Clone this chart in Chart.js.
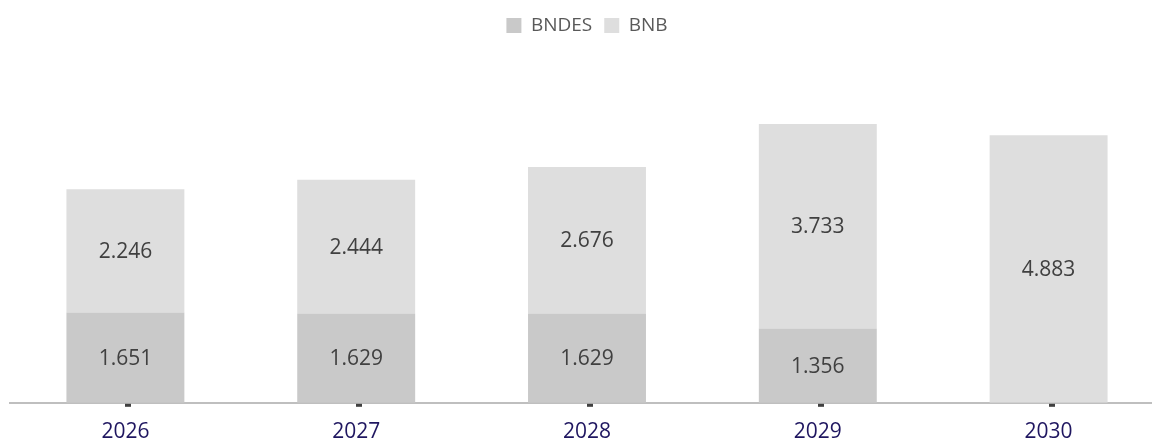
<!DOCTYPE html>
<html>
<head>
<meta charset="utf-8">
<script src="https://cdn.jsdelivr.net/npm/chart.js@4.4.1/dist/chart.umd.min.js"></script>
<style>
  html, body { margin: 0; padding: 0; background: #ffffff; overflow: hidden; }
  #wrap { width: 1166px; height: 462px; position: relative; }
</style>
</head>
<body>
<div id="wrap"><canvas id="c"></canvas></div>
<script>
const categories = ['2026', '2027', '2028', '2029', '2030'];
const bndesValues = [1651, 1629, 1629, 1356, null];
const bnbValues = [2246, 2444, 2676, 3733, 4883];
const seriesNames = ['BNDES', 'BNB'];

function fmt(v) {
  return String(Math.round(v)).replace(/\B(?=(\d{3})+(?!\d))/g, '.');
}

const FONT = "'Open Sans', 'DejaVu Sans', sans-serif";

const labelsPlugin = {
  id: 'segLabels',
  afterDatasetsDraw(chart) {
    const ctx = chart.ctx;
    ctx.save();
    ctx.font = '21px ' + FONT;
    ctx.fillStyle = '#404040';
    ctx.textAlign = 'center';
    ctx.textBaseline = 'middle';
    chart.data.datasets.forEach((ds, di) => {
      const meta = chart.getDatasetMeta(di);
      meta.data.forEach((bar, i) => {
        const v = ds.data[i];
        if (v === null || v === undefined || v === 0) return;
        const top = Math.min(bar.y, bar.base);
        const bot = Math.max(bar.y, bar.base);
        ctx.fillText(fmt(v), bar.x, (top + bot) / 2 + 1);
      });
    });
    const xs = chart.scales.x;
    const axisY = chart.chartArea.bottom;
    ctx.fillStyle = '#404040';
    categories.forEach((c, i) => {
      const x = xs.getPixelForValue(i);
      ctx.fillRect(Math.round(x), axisY + 1, 6, 3);
    });
    ctx.restore();
  }
};

new Chart(document.getElementById('c'), {
  type: 'bar',
  data: {
    labels: categories,
    datasets: [
      { label: seriesNames[0], data: bndesValues, backgroundColor: '#c9c9c9', borderWidth: 0 },
      { label: seriesNames[1], data: bnbValues, backgroundColor: '#dedede', borderWidth: 0 }
    ]
  },
  options: {
    responsive: true,
    maintainAspectRatio: false,
    animation: false,
    layout: { padding: { left: 10, right: 2, top: 4, bottom: 0 } },
    datasets: { bar: { categoryPercentage: 1.0, barPercentage: 0.511 } },
    plugins: {
      tooltip: { enabled: false },
      legend: {
        position: 'top',
        labels: {
          font: { family: FONT, size: 19 },
          color: '#595959',
          boxWidth: 15,
          boxHeight: 15,
          padding: 12
        }
      }
    },
    scales: {
      x: {
        stacked: true,
        grid: { display: false, drawTicks: false },
        border: { display: true, color: '#bfbfbf', width: 2 },
        ticks: { color: '#1f1660', font: { family: FONT, size: 21 }, padding: 17 }
      },
      y: {
        stacked: true,
        display: false,
        min: 0,
        max: 6533
      }
    }
  },
  plugins: [labelsPlugin]
});
</script>
</body>
</html>
